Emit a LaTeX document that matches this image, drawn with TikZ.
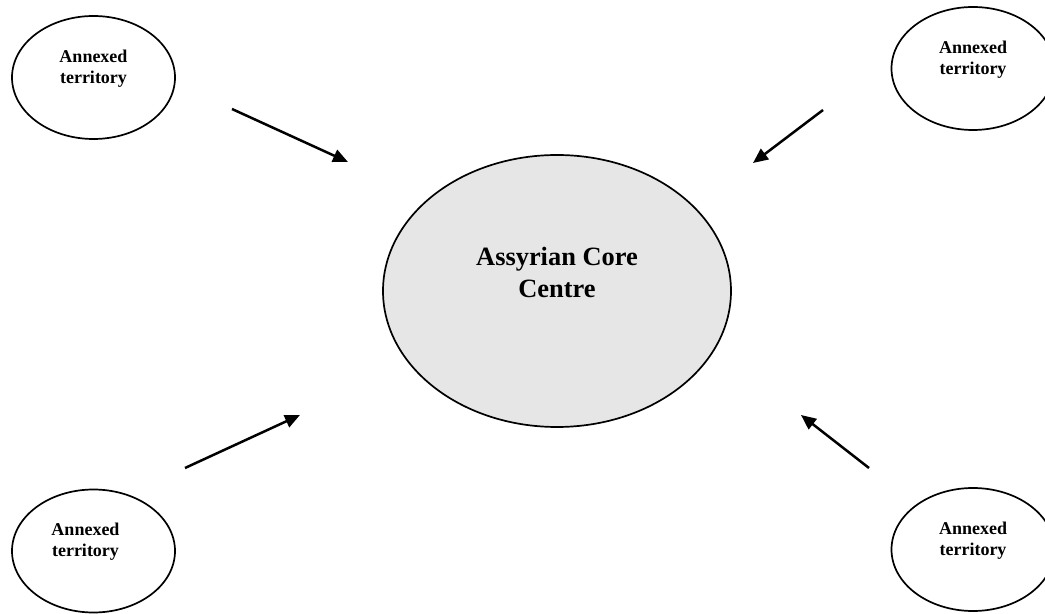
\documentclass[tikz,border=0pt]{standalone}
\usepackage{fontspec}
\setmainfont{Liberation Serif}
\usepackage{tikz}
\usepackage{xcolor}
\usetikzlibrary{shapes.geometric, arrows.meta, positioning}
\definecolor{coreGrey}{RGB}{230,230,230}
\definecolor{mapInk}{RGB}{0,0,0}

\begin{document}
\begin{tikzpicture}[x=0.5pt, y=-0.5pt,
      territory/.style={ellipse, draw=mapInk, line width=0.85pt, minimum width=81.5pt, minimum height=61.5pt,
      inner sep=0pt, align=center, text depth=11pt, font=\fontsize{9}{10.5}\selectfont\bfseries},
      core/.style={ellipse, draw=mapInk, fill=coreGrey, line width=0.85pt, minimum width=174pt, minimum height=136pt,
      inner sep=0pt, align=center, text depth=19pt, font=\fontsize{13.2}{16}\selectfont\bfseries},
      arrow/.style={-{Triangle[length=7.5pt, width=6.5pt]}, line width=1.25pt, draw=mapInk}
    ]
    \useasboundingbox (0,0) rectangle (1045,614);

    \node[core] (core) at (557,291) {Assyrian Core\\Centre};
    \node[territory] (terrNW) at (93.5,77.5) {Annexed\\territory};
    \node[territory] (terrNE) at (973,68.5) {Annexed\\territory};
    \node[territory] (terrSW) at (93.5,551) {Annexed\kern8pt\\territory\kern8pt};
    \node[territory] (terrSE) at (973,549.5) {Annexed\\territory};

    % free-standing arrow ends
    \coordinate (fromNW) at (232,109);
    \coordinate (toNW) at (348,162);
    \coordinate (fromNE) at (823,110);
    \coordinate (toNE) at (753,163);
    \coordinate (fromSW) at (185,468);
    \coordinate (toSW) at (300,415);
    \coordinate (fromSE) at (869,468);
    \coordinate (toSE) at (801,415);

    \draw[arrow] (fromNW) -- (toNW);
    \draw[arrow] (fromNE) -- (toNE);
    \draw[arrow] (fromSW) -- (toSW);
    \draw[arrow] (fromSE) -- (toSE);
  \end{tikzpicture}
\end{document}
